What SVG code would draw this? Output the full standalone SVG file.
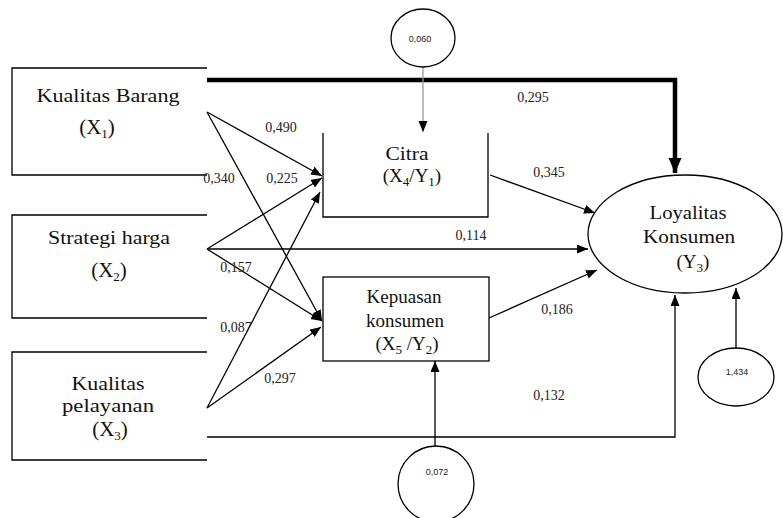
<svg xmlns="http://www.w3.org/2000/svg" width="783" height="518" viewBox="0 0 783 518">
<defs>
<style>
.ln{fill:none;stroke:#000;stroke-width:1.3}
.box{fill:none;stroke:#000;stroke-width:1.3}
.lbl{font-family:"Liberation Serif","Times New Roman",serif;font-size:19px;fill:#111;text-anchor:middle}
.num{font-family:"Liberation Serif","Times New Roman",serif;font-size:14px;fill:#222;text-anchor:middle}
.err{font-family:"Liberation Sans",Arial,sans-serif;font-size:9px;fill:#222;text-anchor:middle}
.sub{font-size:13px}
</style>
<marker id="ah" markerUnits="userSpaceOnUse" markerWidth="12" markerHeight="10" refX="11" refY="4.5" orient="auto">
<path d="M0,0 L11,4.5 L0,9 z" fill="#000"/>
</marker>
<marker id="ahb" markerUnits="userSpaceOnUse" markerWidth="16" markerHeight="14" refX="15" refY="6.5" orient="auto">
<path d="M0,0 L15,6.5 L0,13 z" fill="#000"/>
</marker>
</defs>
<rect width="783" height="518" fill="#fff"/>

<g id="connectors">
<path class="ln" d="M207,80 H675 V173" marker-end="url(#ahb)" style="stroke-width:4.5"/>
<line x1="423" y1="67" x2="423" y2="132" stroke="#999" stroke-width="1.3" marker-end="url(#ah)"/>
<line class="ln" x1="207" y1="112" x2="322" y2="176" marker-end="url(#ah)"/>
<line class="ln" x1="207" y1="112" x2="322" y2="321" marker-end="url(#ah)"/>
<line class="ln" x1="207" y1="249" x2="322" y2="178" marker-end="url(#ah)"/>
<line class="ln" x1="207" y1="249" x2="322" y2="321" marker-end="url(#ah)"/>
<line class="ln" x1="207" y1="249" x2="588" y2="249" marker-end="url(#ah)"/>
<line class="ln" x1="207" y1="408" x2="320" y2="192" marker-end="url(#ah)"/>
<line class="ln" x1="207" y1="408" x2="321" y2="327" marker-end="url(#ah)"/>
<line class="ln" x1="490" y1="175" x2="595" y2="213" marker-end="url(#ah)"/>
<line class="ln" x1="489" y1="318" x2="597" y2="270" marker-end="url(#ah)"/>
<path class="ln" d="M207,437 H675 V295" marker-end="url(#ah)"/>
<line class="ln" x1="435" y1="446" x2="435" y2="361" marker-end="url(#ah)"/>
<line class="ln" x1="736" y1="348" x2="736" y2="288" marker-end="url(#ah)"/>
</g>

<g id="node-x1">
<path class="box" d="M207,68 H12 V175 H207"/>
<text class="lbl" x="108" y="102" textLength="143" lengthAdjust="spacingAndGlyphs">Kualitas Barang</text>
<text class="lbl" x="97" y="134" style="font-size:21px">(X<tspan class="sub" dy="4">1</tspan><tspan dy="-4">)</tspan></text>
</g>

<g id="node-x2">
<path class="box" d="M207,215 H12 V318 H207"/>
<text class="lbl" x="109" y="244" textLength="122" lengthAdjust="spacingAndGlyphs">Strategi harga</text>
<text class="lbl" x="109" y="277" style="font-size:21px">(X<tspan class="sub" dy="4">2</tspan><tspan dy="-4">)</tspan></text>
</g>

<g id="node-x3">
<path class="box" d="M207,352 H12 V460 H207"/>
<text class="lbl" x="108" y="390" textLength="73" lengthAdjust="spacingAndGlyphs">Kualitas</text>
<text class="lbl" x="108" y="412" textLength="92" lengthAdjust="spacingAndGlyphs">pelayanan</text>
<text class="lbl" x="110" y="436" style="font-size:21px">(X<tspan class="sub" dy="4">3</tspan><tspan dy="-4">)</tspan></text>
</g>

<g id="node-citra">
<path class="box" d="M323,133 V217 H488 V133"/>
<text class="lbl" x="407" y="160" textLength="43" lengthAdjust="spacingAndGlyphs">Citra</text>
<text class="lbl" x="412" y="182">(X<tspan class="sub" dy="4">4</tspan><tspan dy="-4">/Y</tspan><tspan class="sub" dy="4">1</tspan><tspan dy="-4">)</tspan></text>
</g>

<g id="node-kepuasan">
<rect class="box" x="323" y="277" width="166" height="84"/>
<text class="lbl" x="404" y="303" textLength="75" lengthAdjust="spacingAndGlyphs">Kepuasan</text>
<text class="lbl" x="405" y="327" textLength="78" lengthAdjust="spacingAndGlyphs">konsumen</text>
<text class="lbl" x="407" y="350">(X<tspan class="sub" dy="4">5</tspan><tspan dy="-4"> /Y</tspan><tspan class="sub" dy="4">2</tspan><tspan dy="-4">)</tspan></text>
</g>

<g id="node-loyalitas">
<ellipse class="box" cx="685" cy="234" rx="97" ry="59"/>
<text class="lbl" x="688" y="219" textLength="77" lengthAdjust="spacingAndGlyphs">Loyalitas</text>
<text class="lbl" x="689" y="243" textLength="92" lengthAdjust="spacingAndGlyphs">Konsumen</text>
<text class="lbl" x="693" y="268">(Y<tspan class="sub" dy="4">3</tspan><tspan dy="-4">)</tspan></text>
</g>

<g id="err-citra">
<ellipse class="box" cx="423" cy="38" rx="32" ry="29"/>
<text class="err" x="420" y="42">0,060</text>
</g>
<g id="err-kepuasan">
<ellipse class="box" cx="436" cy="484" rx="38" ry="38"/>
<text class="err" x="437" y="475">0,072</text>
</g>
<g id="err-loyalitas">
<ellipse class="box" cx="736" cy="377" rx="38" ry="29"/>
<text class="err" x="737" y="375">1,434</text>
</g>

<g id="labels">
<text class="num" x="281" y="132">0,490</text>
<text class="num" x="219" y="183">0,340</text>
<text class="num" x="282" y="183">0,225</text>
<text class="num" x="236" y="272">0,157</text>
<text class="num" x="236" y="332">0,087</text>
<text class="num" x="280" y="383">0,297</text>
<text class="num" x="533" y="102">0,295</text>
<text class="num" x="549" y="177">0,345</text>
<text class="num" x="471" y="240">0,114</text>
<text class="num" x="557" y="314">0,186</text>
<text class="num" x="549" y="400">0,132</text>
</g>
</svg>
